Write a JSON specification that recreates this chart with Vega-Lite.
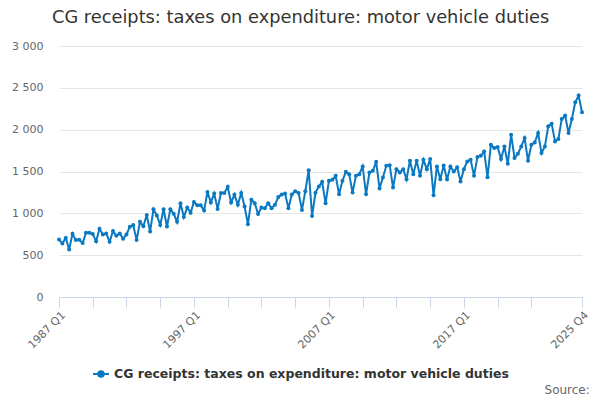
{
  "$schema": "https://vega.github.io/schema/vega-lite/v6.json",
  "background": "white",
  "padding": {"left": 11, "top": 9, "right": 16, "bottom": 4},
  "title": {
    "text": "Source:",
    "orient": "bottom",
    "anchor": "end",
    "frame": "bounds",
    "font": "DejaVu Sans",
    "fontSize": 12,
    "fontWeight": "normal",
    "color": "#666666",
    "offset": 4,
    "dx": 0
  },
  "vconcat": [
    {
      "title": {
        "text": "CG receipts: taxes on expenditure: motor vehicle duties",
        "anchor": "middle",
        "frame": "bounds",
        "font": "DejaVu Sans",
        "fontSize": 17.8,
        "fontWeight": "normal",
        "color": "#333333",
        "offset": 13
      },
      "width": 523,
      "height": 251,
      "data": {
        "values": [
          {"quarter": "1987 Q1", "value": 688}, {"quarter": "1987 Q2", "value": 640}, {"quarter": "1987 Q3", "value": 705}, {"quarter": "1987 Q4", "value": 568},
          {"quarter": "1988 Q1", "value": 755}, {"quarter": "1988 Q2", "value": 680}, {"quarter": "1988 Q3", "value": 685}, {"quarter": "1988 Q4", "value": 645},
          {"quarter": "1989 Q1", "value": 768}, {"quarter": "1989 Q2", "value": 768}, {"quarter": "1989 Q3", "value": 752}, {"quarter": "1989 Q4", "value": 665},
          {"quarter": "1990 Q1", "value": 815}, {"quarter": "1990 Q2", "value": 748}, {"quarter": "1990 Q3", "value": 760}, {"quarter": "1990 Q4", "value": 660},
          {"quarter": "1991 Q1", "value": 788}, {"quarter": "1991 Q2", "value": 732}, {"quarter": "1991 Q3", "value": 760}, {"quarter": "1991 Q4", "value": 695},
          {"quarter": "1992 Q1", "value": 748}, {"quarter": "1992 Q2", "value": 840}, {"quarter": "1992 Q3", "value": 860}, {"quarter": "1992 Q4", "value": 680},
          {"quarter": "1993 Q1", "value": 900}, {"quarter": "1993 Q2", "value": 845}, {"quarter": "1993 Q3", "value": 980}, {"quarter": "1993 Q4", "value": 782},
          {"quarter": "1994 Q1", "value": 1048}, {"quarter": "1994 Q2", "value": 975}, {"quarter": "1994 Q3", "value": 862}, {"quarter": "1994 Q4", "value": 1048},
          {"quarter": "1995 Q1", "value": 842}, {"quarter": "1995 Q2", "value": 1048}, {"quarter": "1995 Q3", "value": 995}, {"quarter": "1995 Q4", "value": 898},
          {"quarter": "1996 Q1", "value": 1120}, {"quarter": "1996 Q2", "value": 955}, {"quarter": "1996 Q3", "value": 1070}, {"quarter": "1996 Q4", "value": 1008},
          {"quarter": "1997 Q1", "value": 1134}, {"quarter": "1997 Q2", "value": 1098}, {"quarter": "1997 Q3", "value": 1098}, {"quarter": "1997 Q4", "value": 1033},
          {"quarter": "1998 Q1", "value": 1256}, {"quarter": "1998 Q2", "value": 1130}, {"quarter": "1998 Q3", "value": 1236}, {"quarter": "1998 Q4", "value": 1053},
          {"quarter": "1999 Q1", "value": 1244}, {"quarter": "1999 Q2", "value": 1244}, {"quarter": "1999 Q3", "value": 1317}, {"quarter": "1999 Q4", "value": 1130},
          {"quarter": "2000 Q1", "value": 1224}, {"quarter": "2000 Q2", "value": 1102}, {"quarter": "2000 Q3", "value": 1244}, {"quarter": "2000 Q4", "value": 1081},
          {"quarter": "2001 Q1", "value": 870}, {"quarter": "2001 Q2", "value": 1163}, {"quarter": "2001 Q3", "value": 1122}, {"quarter": "2001 Q4", "value": 992},
          {"quarter": "2002 Q1", "value": 1069}, {"quarter": "2002 Q2", "value": 1061}, {"quarter": "2002 Q3", "value": 1122}, {"quarter": "2002 Q4", "value": 1061},
          {"quarter": "2003 Q1", "value": 1102}, {"quarter": "2003 Q2", "value": 1195}, {"quarter": "2003 Q3", "value": 1224}, {"quarter": "2003 Q4", "value": 1236},
          {"quarter": "2004 Q1", "value": 1061}, {"quarter": "2004 Q2", "value": 1224}, {"quarter": "2004 Q3", "value": 1264}, {"quarter": "2004 Q4", "value": 1244},
          {"quarter": "2005 Q1", "value": 1041}, {"quarter": "2005 Q2", "value": 1264}, {"quarter": "2005 Q3", "value": 1515}, {"quarter": "2005 Q4", "value": 968},
          {"quarter": "2006 Q1", "value": 1246}, {"quarter": "2006 Q2", "value": 1322}, {"quarter": "2006 Q3", "value": 1376}, {"quarter": "2006 Q4", "value": 1120},
          {"quarter": "2007 Q1", "value": 1388}, {"quarter": "2007 Q2", "value": 1400}, {"quarter": "2007 Q3", "value": 1448}, {"quarter": "2007 Q4", "value": 1228},
          {"quarter": "2008 Q1", "value": 1388}, {"quarter": "2008 Q2", "value": 1496}, {"quarter": "2008 Q3", "value": 1468}, {"quarter": "2008 Q4", "value": 1248},
          {"quarter": "2009 Q1", "value": 1448}, {"quarter": "2009 Q2", "value": 1468}, {"quarter": "2009 Q3", "value": 1560}, {"quarter": "2009 Q4", "value": 1228},
          {"quarter": "2010 Q1", "value": 1488}, {"quarter": "2010 Q2", "value": 1508}, {"quarter": "2010 Q3", "value": 1616}, {"quarter": "2010 Q4", "value": 1296},
          {"quarter": "2011 Q1", "value": 1428}, {"quarter": "2011 Q2", "value": 1568}, {"quarter": "2011 Q3", "value": 1576}, {"quarter": "2011 Q4", "value": 1308},
          {"quarter": "2012 Q1", "value": 1528}, {"quarter": "2012 Q2", "value": 1488}, {"quarter": "2012 Q3", "value": 1528}, {"quarter": "2012 Q4", "value": 1408},
          {"quarter": "2013 Q1", "value": 1628}, {"quarter": "2013 Q2", "value": 1468}, {"quarter": "2013 Q3", "value": 1628}, {"quarter": "2013 Q4", "value": 1448},
          {"quarter": "2014 Q1", "value": 1640}, {"quarter": "2014 Q2", "value": 1528}, {"quarter": "2014 Q3", "value": 1648}, {"quarter": "2014 Q4", "value": 1216},
          {"quarter": "2015 Q1", "value": 1560}, {"quarter": "2015 Q2", "value": 1408}, {"quarter": "2015 Q3", "value": 1572}, {"quarter": "2015 Q4", "value": 1404},
          {"quarter": "2016 Q1", "value": 1560}, {"quarter": "2016 Q2", "value": 1500}, {"quarter": "2016 Q3", "value": 1552}, {"quarter": "2016 Q4", "value": 1380},
          {"quarter": "2017 Q1", "value": 1528}, {"quarter": "2017 Q2", "value": 1620}, {"quarter": "2017 Q3", "value": 1640}, {"quarter": "2017 Q4", "value": 1448},
          {"quarter": "2018 Q1", "value": 1672}, {"quarter": "2018 Q2", "value": 1688}, {"quarter": "2018 Q3", "value": 1740}, {"quarter": "2018 Q4", "value": 1432},
          {"quarter": "2019 Q1", "value": 1820}, {"quarter": "2019 Q2", "value": 1780}, {"quarter": "2019 Q3", "value": 1792}, {"quarter": "2019 Q4", "value": 1648},
          {"quarter": "2020 Q1", "value": 1800}, {"quarter": "2020 Q2", "value": 1592}, {"quarter": "2020 Q3", "value": 1940}, {"quarter": "2020 Q4", "value": 1660},
          {"quarter": "2021 Q1", "value": 1712}, {"quarter": "2021 Q2", "value": 1800}, {"quarter": "2021 Q3", "value": 1900}, {"quarter": "2021 Q4", "value": 1628},
          {"quarter": "2022 Q1", "value": 1820}, {"quarter": "2022 Q2", "value": 1848}, {"quarter": "2022 Q3", "value": 1960}, {"quarter": "2022 Q4", "value": 1720},
          {"quarter": "2023 Q1", "value": 1800}, {"quarter": "2023 Q2", "value": 2040}, {"quarter": "2023 Q3", "value": 2072}, {"quarter": "2023 Q4", "value": 1860},
          {"quarter": "2024 Q1", "value": 1888}, {"quarter": "2024 Q2", "value": 2128}, {"quarter": "2024 Q3", "value": 2168}, {"quarter": "2024 Q4", "value": 1960},
          {"quarter": "2025 Q1", "value": 2128}, {"quarter": "2025 Q2", "value": 2328}, {"quarter": "2025 Q3", "value": 2408}, {"quarter": "2025 Q4", "value": 2208}
        ]
      },
      "mark": {
        "type": "line",
        "strokeWidth": 2,
        "point": {"filled": true, "size": 16}
      },
      "encoding": {
        "x": {
          "field": "quarter",
          "type": "ordinal",
          "sort": null,
          "scale": {"type": "point", "padding": 0},
          "axis": {
            "title": null,
            "values": ["1987 Q1", "1989 Q3", "1992 Q1", "1994 Q3", "1997 Q1", "1999 Q3", "2002 Q1", "2004 Q3", "2007 Q1", "2009 Q3", "2012 Q1", "2014 Q3", "2017 Q1", "2019 Q3", "2022 Q1", "2025 Q4"],
            "labelExpr": "indexof(['1987 Q1', '1997 Q1', '2007 Q1', '2017 Q1', '2025 Q4'], datum.value) >= 0 ? datum.value : ''",
            "labelAngle": -45,
            "labelPadding": 2,
            "domainColor": "#ccd6eb",
            "tickColor": "#ccd6eb",
            "tickSize": 10,
            "grid": false
          }
        },
        "y": {
          "field": "value",
          "type": "quantitative",
          "scale": {"domain": [0, 3000], "nice": false},
          "axis": {
            "title": null,
            "values": [0, 500, 1000, 1500, 2000, 2500, 3000],
            "labelExpr": "replace(format(datum.value, ','), ',', ' ')",
            "domain": false,
            "ticks": false,
            "labelPadding": 16,
            "gridColor": "#e6e6e6"
          }
        },
        "color": {
          "datum": "CG receipts: taxes on expenditure: motor vehicle duties",
          "type": "nominal",
          "scale": {"range": ["#0a79c2"]},
          "legend": {
            "title": null,
            "orient": "none",
            "legendX": 33,
            "legendY": 319,
            "symbolType": "M-1,0H1M0.35,0A0.35,0.35,0,1,1,-0.35,0A0.35,0.35,0,1,1,0.35,0Z",
            "symbolSize": 256,
            "symbolStrokeWidth": 2,
            "symbolFillColor": "#0a79c2",
            "symbolStrokeColor": "#0a79c2",
            "labelFont": "DejaVu Sans",
            "labelFontSize": 12.5,
            "labelFontWeight": "bold",
            "labelColor": "#333333",
            "labelLimit": 600
          }
        }
      }
    }
  ],
  "config": {
    "view": {"stroke": null},
    "font": "DejaVu Sans",
    "axis": {
      "labelFont": "DejaVu Sans",
      "labelFontSize": 11,
      "labelColor": "#666666"
    }
  }
}
